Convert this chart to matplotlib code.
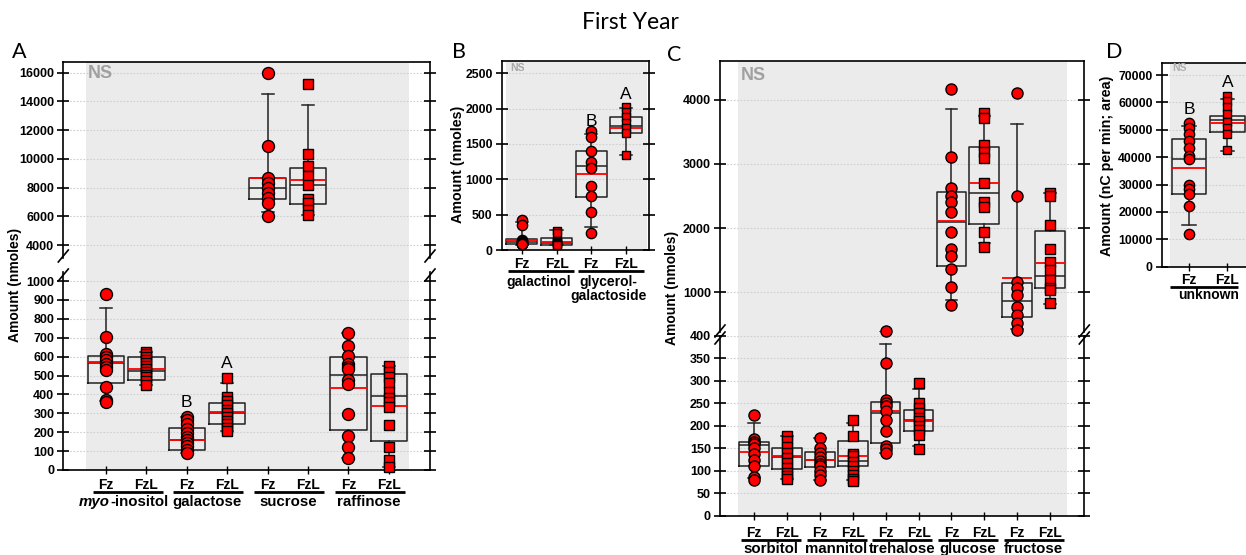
import matplotlib
matplotlib.use('Agg')
import matplotlib.pyplot as plt
import matplotlib.transforms as mtrans
from matplotlib.lines import Line2D
from matplotlib.patches import Rectangle

# ---------------- data ----------------
A_groups = ['myo-inositol', 'galactose', 'sucrose', 'raffinose']
A_myo_Fz = [929, 702, 612, 596, 580, 562, 545, 527, 437, 370, 358]
A_myo_FzL = [625, 612, 598, 582, 566, 550, 535, 520, 505, 490, 470, 452]
A_gal_Fz = [280, 265, 242, 218, 195, 175, 160, 145, 128, 108, 88]
A_gal_FzL = [488, 388, 365, 342, 320, 300, 280, 262, 242, 222, 205]
A_suc_Fz = [16000, 10917, 8688, 8298, 7948, 7600, 7296, 6947, 6021]
A_suc_FzL = [15190, 10338, 9503, 8827, 8180, 7183, 6905, 6439, 6091]
A_raf_Fz = [723, 654, 606, 560, 545, 533, 476, 455, 296, 182, 123, 63]
A_raf_FzL = [552, 520, 494, 459, 414, 379, 361, 335, 238, 120, 55, 15]
A_q1 = [460, 476, 106, 245, 7190, 6840, 212, 153]
A_med = [565, 525, 160, 300, 7990, 8160, 504, 393]
A_q3 = [605, 600, 220, 352, 8680, 9340, 598, 506]
A_lo = [365, 450, 88, 205, 6320, 6100, 63, 15]
A_hi = [860, 625, 280, 460, 14490, 13730, 723, 552]
A_mean = [569, 535, 160, 309, 8650, 8530, 436, 340]

B_groups = ['galactinol', 'glycerol-\ngalactoside']
B_gal_Fz = [420, 360, 140, 125, 115, 105, 95, 90, 85, 80]
B_gal_FzL = [262, 235, 130, 118, 108, 98, 85, 72]
B_gly_Fz = [1688, 1594, 1405, 1250, 1156, 906, 764, 542, 236]
B_gly_FzL = [2028, 1957, 1887, 1801, 1722, 1651, 1344]
B_q1 = [81, 75, 755, 1660]
B_med = [110, 104, 1190, 1760]
B_q3 = [160, 165, 1405, 1877]
B_lo = [70, 70, 330, 1344]
B_hi = [392, 280, 1641, 2005]
B_mean = [141, 118, 1075, 1722]

C_groups = ['sorbitol', 'mannitol', 'trehalose', 'glucose', 'fructose']
C_sor_Fz = [224, 170, 164, 160, 150, 137, 124, 111, 85, 80]
C_sor_FzL = [178, 165, 152, 140, 128, 118, 105, 95, 88, 82]
C_man_Fz = [173, 150, 140, 130, 122, 115, 110, 100, 90, 80]
C_man_FzL = [213, 178, 138, 132, 120, 110, 100, 90, 82, 78]
C_tre_Fz = [410, 340, 258, 250, 243, 232, 213, 188, 155, 148, 140]
C_tre_FzL = [294, 250, 240, 228, 218, 210, 200, 190, 180, 148]
C_glu_Fz = [4162, 3107, 2620, 2500, 2411, 2255, 1944, 1670, 1565, 1357, 1087, 802]
C_glu_FzL = [3788, 3710, 3294, 3190, 3087, 2707, 2411, 2333, 1944, 1710]
C_fru_Fz = [4110, 2505, 1156, 1062, 958, 776, 647, 517, 413]
C_fru_FzL = [2542, 2500, 2048, 1670, 1477, 1347, 1192, 1062, 1036, 838]
C_q1 = [111, 104, 108, 110, 162, 188, 1410, 2059, 620, 1072]
C_med = [157, 131, 124, 122, 229, 213, 2100, 2542, 869, 1251]
C_q3 = [164, 150, 141, 167, 253, 235, 2567, 3259, 1140, 1955]
C_lo = [83, 82, 80, 80, 140, 155, 880, 1773, 430, 818]
C_hi = [207, 178, 173, 207, 382, 281, 3850, 3746, 3622, 2551]
C_mean = [142, 133, 124, 133, 233, 211, 2115, 2698, 1218, 1460]

D_groups = ['unknown']
D_Fz = [52500, 50500, 48500, 46000, 43500, 40500, 39500, 30000, 28500, 26500, 22300, 12000]
D_FzL = [62300, 60500, 58400, 55700, 52900, 50500, 48400, 42800]
D_q1 = [26430, 49290]
D_med = [39320, 53560]
D_q3 = [46620, 55020]
D_lo = [15220, 42350]
D_hi = [51370, 61110]
D_mean = [36150, 52580]

# ---------------- figure ----------------
W, H = 1246, 555
plt.rcParams['font.family'] = ['Liberation Sans', 'DejaVu Sans']
fig = plt.figure(figsize=(W / 100, H / 100), dpi=100)

GREY = '#ebebeb'
RED = '#ff0000'


def add_ax(x0, y0, x1, y1):
    return fig.add_axes([x0 / W, 1 - y1 / H, (x1 - x0) / W, (y1 - y0) / H])


def style_ax(ax, yticks, span, fs, top=True, bottom=True):
    ax.set_facecolor('white')
    ax.axvspan(span[0], span[1], color=GREY, zorder=0.1, lw=0)
    ax.set_yticks(yticks)
    ax.set_yticklabels([str(v) for v in yticks], fontsize=fs, fontweight='bold')
    ax.yaxis.grid(True, color='#cfcfcf', linestyle=(0, (1.5, 1.5)), lw=0.8)
    ax.set_axisbelow(True)
    ax.tick_params(axis='y', direction='inout', length=9, width=1.2, left=True, right=True, pad=2)
    ax.tick_params(axis='x', direction='inout', length=6, width=1.0, labelbottom=False, bottom=bottom)
    for s in ax.spines.values():
        s.set_linewidth(1.2)
    ax.spines['top'].set_visible(top)
    ax.spines['bottom'].set_visible(bottom)


def draw_boxes(ax, pos, pts_list, q1, med, q3, lo, hi, mean, ms_c, ms_s, capw, free_top=None, min_val=None):
    stats = []
    for i in range(len(pos)):
        stats.append(dict(q1=q1[i], med=med[i], q3=q3[i], whislo=lo[i], whishi=hi[i],
                          mean=mean[i], fliers=[]))
    ax.bxp(stats, positions=pos, widths=0.9, showmeans=True, meanline=True, showfliers=False,
           capwidths=capw, manage_ticks=False,
           boxprops=dict(color='#222222', lw=1.1),
           medianprops=dict(color='#222222', lw=1.1),
           meanprops=dict(color=RED, lw=1.3, ls='-'),
           whiskerprops=dict(color='#222222', lw=1.1),
           capprops=dict(color='#222222', lw=1.1))
    for i, pts in enumerate(pts_list):
        mk, ms = ('o', ms_c) if i % 2 == 0 else ('s', ms_s)
        if min_val is not None:
            pts = [v for v in pts if v > min_val]
        if free_top is None:
            groups = [(pts, True)]
        else:
            inside = [v for v in pts if v <= free_top]
            outside = [v for v in pts if v > free_top]
            groups = [(inside, False), (outside, True)]
        for vals, clip in groups:
            if vals:
                ax.plot([pos[i]] * len(vals), vals, ls='none', marker=mk, ms=ms, mfc=RED, mec='k',
                        mew=1.0, zorder=3, clip_on=clip)


def off(ax, dy):
    return mtrans.offset_copy(ax.get_xaxis_transform(), fig=fig, x=0, y=-dy, units='dots')


def xlabels(ax, pos, groups, dy_t, dy_l, dy_g, fs_t, fs_g, ext, dy_g2=None):
    for i, p in enumerate(pos):
        ax.text(p, 0, 'Fz' if i % 2 == 0 else 'FzL', transform=off(ax, dy_t), ha='center', va='center',
                fontsize=fs_t, fontweight='bold', clip_on=False)
    for g, name in enumerate(groups):
        p = pos[2 * g]
        ax.plot([p + ext[0], p + ext[1]], [0, 0], transform=off(ax, dy_l), color='k', lw=2.0,
                clip_on=False, solid_capstyle='butt')
        if name.startswith('myo-'):
            ax.text(p + 0.1, 0, 'myo', transform=off(ax, dy_g), ha='right', va='center', fontsize=fs_g,
                    fontweight='bold', fontstyle='italic', clip_on=False)
            ax.text(p + 0.1, 0, '-inositol', transform=off(ax, dy_g), ha='left', va='center', fontsize=fs_g,
                    fontweight='bold', clip_on=False)
        elif '\n' in name:
            l1, l2 = name.split('\n')
            ax.text(p + 0.5, 0, l1, transform=off(ax, dy_g), ha='center', va='center', fontsize=fs_g,
                    fontweight='bold', clip_on=False)
            ax.text(p + 0.5, 0, l2, transform=off(ax, dy_g2), ha='center', va='center', fontsize=fs_g,
                    fontweight='bold', clip_on=False)
        else:
            ax.text(p + 0.5, 0, name, transform=off(ax, dy_g), ha='center', va='center', fontsize=fs_g,
                    fontweight='bold', clip_on=False)


def slash(xp, yp, dx=5, dy=6):
    fig.add_artist(Line2D([(xp - dx) / W, (xp + dx) / W], [1 - (yp + dy) / H, 1 - (yp - dy) / H],
                          transform=fig.transFigure, color='k', lw=1.2))


def grey_gap(ax, span, y_top, y_bot):
    tr = mtrans.blended_transform_factory(ax.transData, fig.transFigure)
    fig.add_artist(Rectangle((span[0], 1 - y_bot / H), span[1] - span[0], (y_bot - y_top) / H,
                             transform=tr, color=GREY, lw=0, zorder=0))


# ---------------- Panel A ----------------
A_pos = list(range(8))
A_pts = [A_myo_Fz, A_myo_FzL, A_gal_Fz, A_gal_FzL, A_suc_Fz, A_suc_FzL, A_raf_Fz, A_raf_FzL]
A_x0, A_x1 = 63.3, 430.0
A_xl = ((A_x0 - 106) / 40.4, (A_x1 - 106) / 40.4)
axAu = add_ax(A_x0, 61.7, A_x1, 258)
axAl = add_ax(A_x0, 272, A_x1, 470)
draw_boxes(axAu, A_pos, A_pts, A_q1, A_med, A_q3, A_lo, A_hi, A_mean, 8.6, 7.3, 0.3, min_val=1048)
draw_boxes(axAl, A_pos, A_pts, A_q1, A_med, A_q3, A_lo, A_hi, A_mean, 8.6, 7.3, 0.3, free_top=1048)
for ax in (axAu, axAl):
    ax.set_xlim(*A_xl)
style_ax(axAu, list(range(4000, 16001, 2000)), (-0.5, 7.5), 9, top=True, bottom=False)
style_ax(axAl, list(range(0, 1001, 100)), (-0.5, 7.5), 9, top=False, bottom=True)
axAu.set_ylim(3096, 16766)
axAl.set_ylim(0, 1048)
axAu.set_xticks(A_pos)
axAl.set_xticks(A_pos)
axAu.tick_params(axis='x', bottom=False)
grey_gap(axAl, (-0.5, 7.5), 257.5, 272.5)
xlabels(axAl, A_pos, A_groups, 15, 22, 32, 10, 10.8, (-0.33, 1.4))
axAu.text(-0.46, 0.942, 'NS', transform=axAu.get_xaxis_transform(), color='#a0a0a0', fontsize=13,
          fontweight='bold', va='center', ha='left')
axAl.text(2, 357, 'B', ha='center', va='center', fontsize=12.5)
axAl.text(3, 563, 'A', ha='center', va='center', fontsize=12.5)
for xp in (A_x0, A_x1):
    slash(xp, 256)
    slash(xp, 275)
fig.text(15 / W, 1 - 285 / H, 'Amount (nmoles)', rotation=90, ha='center', va='center',
         fontsize=10, fontweight='bold')

# ---------------- Panel B ----------------
B_pos = list(range(4))
B_pts = [B_gal_Fz, B_gal_FzL, B_gly_Fz, B_gly_FzL]
axB = add_ax(501.7, 61, 649.3, 250)
draw_boxes(axB, B_pos, B_pts, B_q1, B_med, B_q3, B_lo, B_hi, B_mean, 7.4, 6.3, 0.35, free_top=2674)
style_ax(axB, list(range(0, 2501, 500)), (-0.45, 3.6), 8.8)
axB.set_xlim((501.7 - 521.7) / 34.8, (649.3 - 521.7) / 34.8)
axB.set_ylim(0, 2674)
axB.set_xticks(B_pos)
xlabels(axB, B_pos, B_groups, 14, 21, 32, 10, 10, (-0.38, 1.5), dy_g2=46)
axB.text(-0.34, 0.963, 'NS', transform=axB.get_xaxis_transform(), color='#a8a8a8', fontsize=7.5,
         fontweight='bold', va='center', ha='left')
axB.text(2, 1815, 'B', ha='center', va='center', fontsize=12.5)
axB.text(3, 2193, 'A', ha='center', va='center', fontsize=12.5)
fig.text(458 / W, 1 - 164 / H, 'Amount (nmoles)', rotation=90, ha='center', va='center',
         fontsize=10.3, fontweight='bold')

# ---------------- Panel C ----------------
C_pos = list(range(10))
C_pts = [C_sor_Fz, C_sor_FzL, C_man_Fz, C_man_FzL, C_tre_Fz, C_tre_FzL, C_glu_Fz, C_glu_FzL, C_fru_Fz, C_fru_FzL]
C_x0, C_x1 = 720.0, 1084.3
C_xl = ((C_x0 - 754) / 32.9, (C_x1 - 754) / 32.9)
axCu = add_ax(C_x0, 61, C_x1, 332)
axCl = add_ax(C_x0, 335.7, C_x1, 515.7)
draw_boxes(axCu, C_pos, C_pts, C_q1, C_med, C_q3, C_lo, C_hi, C_mean, 8.0, 6.9, 0.35, min_val=416)
draw_boxes(axCl, C_pos, C_pts, C_q1, C_med, C_q3, C_lo, C_hi, C_mean, 8.0, 6.9, 0.35, free_top=416)
for ax in (axCu, axCl):
    ax.set_xlim(*C_xl)
style_ax(axCu, [1000, 2000, 3000, 4000], (-0.5, 9.5), 9, top=True, bottom=False)
style_ax(axCl, list(range(0, 401, 50)), (-0.5, 9.5), 9, top=False, bottom=True)
axCu.set_ylim(382, 4603)
axCl.set_ylim(0, 400)
axCu.set_xticks(C_pos)
axCl.set_xticks(C_pos)
axCu.tick_params(axis='x', bottom=False)
grey_gap(axCl, (-0.5, 9.5), 331.5, 336.2)
xlabels(axCl, C_pos, C_groups, 17, 24, 33, 10, 10.8, (-0.4, 1.42))
axCu.text(-0.4, 0.947, 'NS', transform=axCu.get_xaxis_transform(), color='#a0a0a0', fontsize=13,
          fontweight='bold', va='center', ha='left')
for xp in (C_x0, C_x1):
    slash(xp, 331)
    slash(xp, 338)
fig.text(672 / W, 1 - 288 / H, 'Amount (nmoles)', rotation=90, ha='center', va='center',
         fontsize=10, fontweight='bold')

# ---------------- Panel D ----------------
D_pos = [0, 1]
axD = add_ax(1161.7, 63, 1280, 266.7)
draw_boxes(axD, D_pos, [D_Fz, D_FzL], D_q1, D_med, D_q3, D_lo, D_hi, D_mean, 7.4, 6.3, 0.35, free_top=74400)
style_ax(axD, list(range(0, 70001, 10000)), (-0.5, 1.5), 8.8)
axD.set_xlim((1161.7 - 1189) / 38.3, (1280 - 1189) / 38.3)
axD.set_ylim(0, 74400)
axD.set_xticks(D_pos)
xlabels(axD, D_pos, D_groups, 13, 20, 28, 10, 10, (-0.5, 1.28))
axD.text(-0.44, 0.973, 'NS', transform=axD.get_xaxis_transform(), color='#b0b0b0', fontsize=7.5,
         fontweight='bold', va='center', ha='left')
axD.text(0, 57500, 'B', ha='center', va='center', fontsize=12.5)
axD.text(1, 67250, 'A', ha='center', va='center', fontsize=12.5)
fig.text(1107 / W, 1 - 166 / H, 'Amount (nC per min; area)', rotation=90, ha='center', va='center',
         fontsize=10.3, fontweight='bold')

# ---------------- titles ----------------
fig.text(630 / W, 1 - 29 / H, 'First Year', ha='center', va='baseline', fontsize=16.5, family='Lato')
for lab, xp, yp in (('A', 12, 58), ('B', 452, 58), ('C', 667, 61), ('D', 1106, 58)):
    fig.text(xp / W, 1 - yp / H, lab, ha='left', va='baseline', fontsize=15.5, family='Lato')

fig.savefig('out.png', dpi=100)
